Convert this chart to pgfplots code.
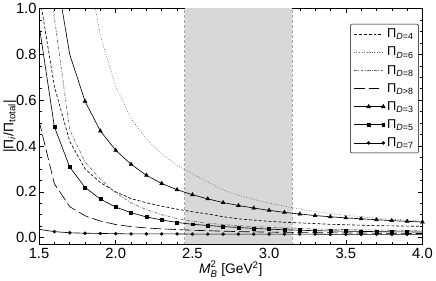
\documentclass[border=0pt]{standalone}
\usepackage{fontspec}
\setmainfont{Liberation Sans}
\usepackage{amsmath}
\usepackage{pgfplots}
\pgfplotsset{compat=1.18}
\definecolor{shade}{RGB}{216,216,216}
\definecolor{shadeline}{RGB}{165,165,165}
\begin{document}
\begin{tikzpicture}[x=1pt,y=1pt]
\begin{axis}[
  scale only axis,
  width=390pt, height=240pt,
  xmin=1.5, xmax=4.0, ymin=-0.03, ymax=1.0,
  xtick={1.5,2.0,2.5,3.0,3.5,4.0},
  ytick={0,0.2,0.4,0.6,0.8,1.0},
  minor x tick num=4, minor y tick num=3,
  tick align=inside,
  major tick length=5pt, minor tick length=3pt,
  /pgf/number format/assume math mode=true,
  xticklabel style={/pgf/number format/fixed,/pgf/number format/fixed zerofill,/pgf/number format/precision=1},
  yticklabel style={/pgf/number format/fixed,/pgf/number format/fixed zerofill,/pgf/number format/precision=1, xshift=1pt},
  tick label style={font=\fontsize{15}{17}\selectfont},
  label style={font=\fontsize{14}{16}\selectfont},
  xlabel={$\text{\textit{M}}^{\text{2}}_{\text{\textit{B}}}$ [GeV\textsuperscript{2}]},
  ylabel={|Π\textsubscript{\textit{i}}/Π\textsubscript{total}|},
  xlabel style={yshift=4pt},
  ylabel style={yshift=-7pt},
  axis line style={line width=0.7pt},
  every tick/.style={black,line width=0.5pt},
  legend style={at={(0.99,0.935)}, anchor=north east, draw=black, line width=0.5pt,
    rounded corners=1pt, font=\fontsize{13}{14}\selectfont, row sep=4pt,
    inner ysep=3pt, inner xsep=3pt, cells={anchor=west}},
  legend image code/.code={\draw[mark repeat=2,mark phase=2,#1] plot coordinates {(0pt,0pt) (15pt,0pt) (30pt,0pt)};},
  every axis plot/.append style={line width=0.65pt, black},
]
% shaded window
\addplot[fill=shade, draw=none, forget plot] coordinates {(2.45,-0.03) (2.45,1.0) (3.15,1.0) (3.15,-0.03)} -- cycle;
\addplot[shadeline, line width=1.1pt, dash pattern=on 3pt off 2pt, forget plot] coordinates {(2.45,-0.03) (2.45,1.0)};
\addplot[shadeline, line width=1.1pt, dash pattern=on 3pt off 2pt, forget plot] coordinates {(3.15,-0.03) (3.15,1.0)};

% D=4
\addplot[dash pattern=on 3pt off 2pt] coordinates {
(1.5,1.07) (1.6,0.66) (1.7,0.42) (1.8,0.30) (1.9,0.24) (2.0,0.20) (2.1,0.17) (2.2,0.152) (2.3,0.137) (2.4,0.124)
(2.5,0.113) (2.6,0.103) (2.7,0.091) (2.8,0.082) (2.9,0.076) (3.0,0.071) (3.1,0.067) (3.2,0.064) (3.3,0.061)
(3.4,0.058) (3.5,0.056) (3.6,0.054) (3.7,0.052) (3.8,0.051) (3.9,0.050) (4.0,0.049)};
\addlegendentry{Π\textsubscript{\textit{D}=4}}
% D=6
\addplot[gray!85!black, dash pattern=on 0.8pt off 1.8pt] coordinates {
(1.8,1.25) (1.9,0.88) (2.0,0.66) (2.1,0.52) (2.2,0.43) (2.3,0.365) (2.4,0.315) (2.5,0.278) (2.6,0.243)
(2.7,0.208) (2.8,0.185) (2.9,0.167) (3.0,0.151) (3.1,0.137) (3.2,0.125) (3.3,0.114) (3.4,0.105) (3.5,0.097)
(3.6,0.091) (3.7,0.085) (3.8,0.080) (3.9,0.076) (4.0,0.072)};
\addlegendentry{Π\textsubscript{\textit{D}=6}}
% D=8
\addplot[gray!80!black, dash pattern=on 3pt off 1.5pt on 0.8pt off 1.5pt] coordinates {
(1.5,1.5) (1.6,0.96) (1.7,0.47) (1.8,0.33) (1.9,0.255) (2.0,0.195) (2.1,0.152) (2.2,0.122) (2.3,0.100)
(2.4,0.083) (2.5,0.071) (2.6,0.063) (2.7,0.057) (2.8,0.052) (2.9,0.048) (3.0,0.045) (3.1,0.042) (3.2,0.040)
(3.3,0.038) (3.4,0.036) (3.5,0.035) (3.6,0.034) (3.7,0.033) (3.8,0.032) (3.9,0.031) (4.0,0.030)};
\addlegendentry{Π\textsubscript{\textit{D}=8}}
% D>8
\addplot[dash pattern=on 11pt off 4pt] coordinates {
(1.5,0.51) (1.6,0.235) (1.7,0.135) (1.8,0.095) (1.9,0.072) (2.0,0.057) (2.1,0.048) (2.2,0.042) (2.3,0.038)
(2.4,0.035) (2.5,0.032) (2.6,0.030) (2.7,0.028) (2.8,0.026) (2.9,0.025) (3.0,0.024) (3.1,0.023) (3.2,0.022)
(3.3,0.021) (3.4,0.021) (3.5,0.020) (3.6,0.020) (3.7,0.019) (3.8,0.019) (3.9,0.018) (4.0,0.018)};
\addlegendentry{Π\textsubscript{\textit{D}>8}}
% D=3
\addplot[mark=triangle*, mark size=2.1pt, mark options={solid},
  mark indices={2,3,4,5,6,7,8,9,10,11,12,13,14,15,16,17,18,19,20,21,22,23,24}] coordinates {
(1.6,1.2) (1.7,0.80) (1.8,0.595) (1.9,0.465) (2.0,0.381) (2.1,0.32) (2.2,0.272) (2.3,0.236) (2.4,0.209)
(2.5,0.187) (2.6,0.169) (2.7,0.153) (2.8,0.140) (2.9,0.129) (3.0,0.119) (3.1,0.110) (3.2,0.103) (3.3,0.096)
(3.4,0.091) (3.5,0.086) (3.6,0.082) (3.7,0.078) (3.8,0.074) (3.9,0.071) (4.0,0.068)};
\addlegendentry{Π\textsubscript{\textit{D}=3}}
% D=5
\addplot[mark=square*, mark size=1.5pt, mark options={solid},
  mark indices={2,3,4,5,6,7,8,9,10,11,12,13,14,15,16,17,18,19,20,21,22,23,24,25}] coordinates {
(1.5,0.93) (1.6,0.484) (1.7,0.308) (1.8,0.219) (1.9,0.168) (2.0,0.133) (2.1,0.109) (2.2,0.090) (2.3,0.077)
(2.4,0.066) (2.5,0.058) (2.6,0.053) (2.7,0.048) (2.8,0.044) (2.9,0.040) (3.0,0.037) (3.1,0.034) (3.2,0.032)
(3.3,0.030) (3.4,0.029) (3.5,0.028) (3.6,0.027) (3.7,0.026) (3.8,0.025) (3.9,0.025) (4.0,0.024)};
\addlegendentry{Π\textsubscript{\textit{D}=5}}
% D=7
\addplot[mark=*, mark size=1.4pt, mark options={solid},
  mark indices={2,3,4,5,6,7,8,9,10,11,12,13,14,15,16,17,18,19,20,21,22,23,24,25}] coordinates {
(1.5,0.036) (1.6,0.026) (1.7,0.021) (1.8,0.019) (1.9,0.018) (2.0,0.017) (2.1,0.016) (2.2,0.016) (2.3,0.016)
(2.4,0.016) (2.5,0.015) (2.6,0.015) (2.7,0.015) (2.8,0.015) (2.9,0.015) (3.0,0.015) (3.1,0.015) (3.2,0.015)
(3.3,0.015) (3.4,0.014) (3.5,0.014) (3.6,0.014) (3.7,0.014) (3.8,0.014) (3.9,0.014) (4.0,0.014)};
\addlegendentry{Π\textsubscript{\textit{D}=7}}
\end{axis}
\end{tikzpicture}
\end{document}
